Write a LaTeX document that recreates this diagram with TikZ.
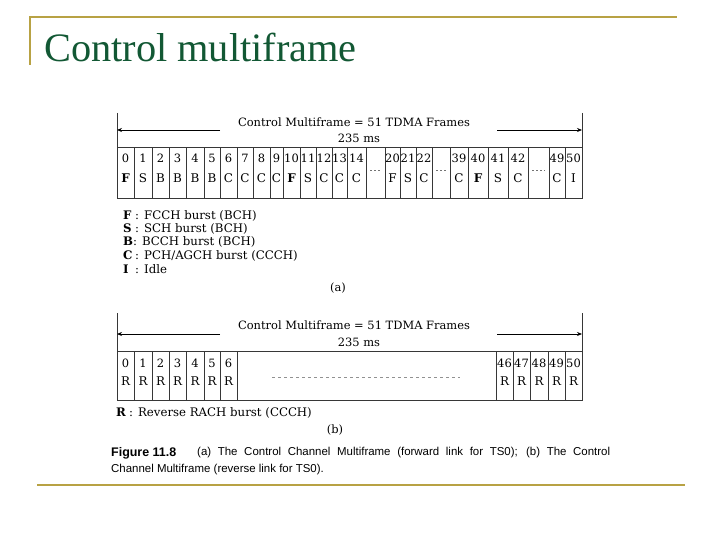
\documentclass[tikz,border=0pt]{standalone}
\usepackage{fontspec}
\setmainfont{DejaVu Serif}
\newfontfamily\titlefont{Liberation Serif}
\newfontfamily\capfont{Liberation Sans}
\usetikzlibrary{arrows.meta}
\definecolor{gold}{RGB}{184,162,68}
\definecolor{titlegreen}{RGB}{18,88,52}
\definecolor{tblgray}{RGB}{55,55,55}
\begin{document}
\begin{tikzpicture}[x=1bp,y=-1bp,
  goldline/.style={draw=gold, line width=2.4bp},
  tbl/.style={draw=tblgray, line width=0.9bp},
  numtxt/.style={inner sep=0pt, font=\fontsize{11.5}{13}\selectfont},
  lettxt/.style={inner sep=0pt, font=\fontsize{12}{13}\selectfont},
  hdrtxt/.style={inner sep=0pt, font=\fontsize{11.5}{13}\selectfont},
  legtxt/.style={inner sep=0pt, anchor=west, font=\fontsize{11.8}{13}\selectfont},
  captxt/.style={inner sep=0pt, anchor=west, font=\capfont\fontsize{11.5}{13}\selectfont},
  gapdots/.style={draw=tblgray!70, line width=0.7bp, dash pattern=on 1.5bp off 2.5bp},
  gapdash/.style={draw=tblgray!55, line width=0.7bp, dash pattern=on 3bp off 3bp},
  span/.style={draw=black, line width=0.8bp, -{Stealth[length=5bp,width=4bp]}}
]
\useasboundingbox (0,0) rectangle (720,540);
% slide frame
\draw[goldline] (30,65) -- (30,17) -- (677,17);
\draw[goldline] (37,485) -- (685,485);
\node[anchor=base west, inner sep=0pt, text=titlegreen, font=\titlefont\fontsize{40.5}{44}\selectfont] (title) at (44,62) {Control multiframe};

% ---------- (a) ----------
\draw[tbl] (117,113) -- (117,147);
\draw[tbl] (582,113) -- (582,147);
\node[hdrtxt] (ha) at (354,122) {Control Multiframe = 51 TDMA Frames};
\node[hdrtxt] (ta) at (359,138) {235 ms};
\coordinate (aLend) at (117,130); \coordinate (aLst) at (220,130);
\coordinate (aRend) at (582,130); \coordinate (aRst) at (497,130);
\draw[span] (aLst) -- (aLend);
\draw[span] (aRst) -- (aRend);
\foreach \a/\b/\n/\l [count=\i] in {117/134/0/{\textbf{F}},134/152/1/S,152/169/2/B,169/186/3/B,186/204/4/B,204/220/5/B,220/237/6/C,237/253/7/C,253/270/8/C,270/283/9/C,283/300/10/{\textbf{F}},300/316/11/S,316/332/12/C,332/347/13/C,347/366/14/C,385/400/20/F,400/416/21/S,416/432/22/C,450/468/39/C,468/488/40/{\textbf{F}},488/508/41/S,508/528/42/C,549/565/49/C,565/582/50/I}{
  \draw[tbl] (\a,147) rectangle (\b,198);
  \node[numtxt] (an\i) at ({(\a+\b)/2},158) {\n};
  \node[lettxt] (al\i) at ({(\a+\b)/2},178) {\l};
}
\foreach \a/\b in {366/385,432/450,528/549}{
  \draw[tbl] (\a,147) rectangle (\b,198);
  \draw[gapdots] (\a+4,170) -- (\b-4,170);
}
% legend (a)
\node[legtxt] (lf) at (123,216) {\makebox[12bp][l]{\textbf{F}}: FCCH burst (BCH)};
\node[legtxt] (ls) at (123,229) {\makebox[12bp][l]{\textbf{S}}: SCH burst (BCH)};
\node[legtxt] (lb) at (123,242) {\makebox[10bp][l]{\textbf{B}}: BCCH burst (BCH)};
\node[legtxt] (lc) at (123,256) {\makebox[12bp][l]{\textbf{C}}: PCH/AGCH burst (CCCH)};
\node[legtxt] (li) at (123,269) {\makebox[12bp][l]{\textbf{I}}: Idle};
\node[hdrtxt] (capa) at (338,288) {(a)};

% ---------- (b) ----------
\draw[tbl] (117,313) -- (117,351);
\draw[tbl] (582,313) -- (582,351);
\node[hdrtxt] (hb) at (354,325) {Control Multiframe = 51 TDMA Frames};
\node[hdrtxt] (tb) at (359,342) {235 ms};
\coordinate (bLend) at (117,334); \coordinate (bLst) at (220,334);
\coordinate (bRend) at (582,334); \coordinate (bRst) at (497,334);
\draw[span] (bLst) -- (bLend);
\draw[span] (bRst) -- (bRend);
\foreach \a/\b/\n [count=\i] in {117/134/0,134/152/1,152/169/2,169/186/3,186/204/4,204/220/5,220/237/6,496/513/46,513/530/47,530/548/48,548/565/49,565/582/50}{
  \draw[tbl] (\a,351) rectangle (\b,400);
  \node[numtxt] (bn\i) at ({(\a+\b)/2},363) {\n};
  \node[lettxt] (bl\i) at ({(\a+\b)/2},381) {R};
}
\draw[tbl] (237,351) rectangle (496,400);
\draw[gapdash] (272,377) -- (460,377);
\node[legtxt] (lr) at (116,413) {\makebox[13bp][l]{\textbf{R}}: Reverse RACH burst (CCCH)};
\node[hdrtxt] (capb) at (335,430) {(b)};

% caption
\node[captxt, font=\capfont\fontsize{12.5}{13}\selectfont] (fig) at (111,453) {\textbf{Figure 11.8}};
\node[captxt] (cap1) at (197,453) {\makebox[413bp][s]{(a) The Control Channel Multiframe (forward link for TS0); (b) The Control}};
\node[captxt] (cap2) at (111,470) {Channel Multiframe (reverse link for TS0).};
\end{tikzpicture}
\end{document}
